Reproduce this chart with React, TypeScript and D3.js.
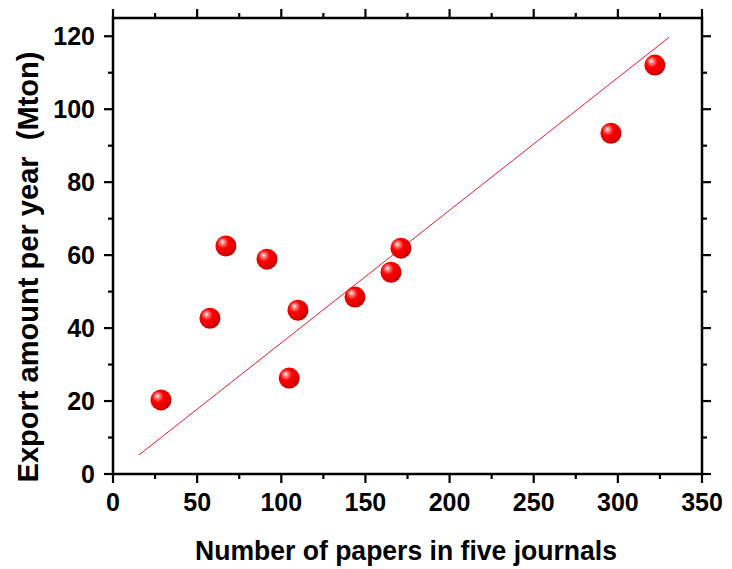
import React from "react";
import * as d3 from "d3";

const papers = [28.5, 57.6, 67.1, 91.5, 104.7, 109.9, 143.8, 165.2, 171.1, 295.9, 322];
const exportAmount = [20.3, 42.7, 62.5, 58.9, 26.3, 44.9, 48.5, 55.3, 61.9, 93.4, 112.1];
const fitX = [15.4, 330.4];
const fitY = [5.2, 119.7];
const xTicks = [0, 50, 100, 150, 200, 250, 300, 350];
const yTicks = [0, 20, 40, 60, 80, 100, 120];
const xMinor = [25, 75, 125, 175, 225, 275, 325];
const yMinor = [10, 30, 50, 70, 90, 110];

const W = 732, H = 569;
const L = 113, R = 702, T = 18, B = 474;

export default function App() {
  const x = d3.scaleLinear().domain([0, 350]).range([L, R]);
  const y = d3.scaleLinear().domain([0, 125]).range([B, T]);
  const line = d3.line<number>().x((d) => x(fitX[d])).y((d) => y(fitY[d]));
  const font = "'Liberation Sans', Arial, sans-serif";
  const MAJ = 9, MIN = 5;
  return (
    <svg width={W} height={H} style={{ position: "absolute", left: 0, top: 0, background: "#fff" }}>
      <defs>
        <radialGradient id="ball" cx="0.4" cy="0.4" r="0.6" fx="0.32" fy="0.3">
          <stop offset="0" stopColor="#ffffff" />
          <stop offset="0.18" stopColor="#ff8080" />
          <stop offset="0.45" stopColor="#ff0000" />
          <stop offset="0.85" stopColor="#e00000" />
          <stop offset="1" stopColor="#b80000" />
        </radialGradient>
      </defs>
      <path d={line([0, 1]) || ""} fill="none" stroke="#dd0016" strokeWidth={0.9} />
      {papers.map((p, i) => (
        <circle key={i} cx={x(p)} cy={y(exportAmount[i])} r={10.5} fill="url(#ball)" />
      ))}
      <g stroke="#000" strokeWidth={2.2} fill="none">
        <rect x={L} y={T} width={R - L} height={B - T} strokeWidth={2.5} />
        {xTicks.map((t) => (
          <g key={"xt" + t}>
            <line x1={x(t)} x2={x(t)} y1={B} y2={B + MAJ} />
            <line x1={x(t)} x2={x(t)} y1={T} y2={T - MAJ} />
          </g>
        ))}
        {xMinor.map((t) => (
          <g key={"xm" + t}>
            <line x1={x(t)} x2={x(t)} y1={B} y2={B + MIN} />
            <line x1={x(t)} x2={x(t)} y1={T} y2={T - MIN} />
          </g>
        ))}
        {yTicks.map((t) => (
          <g key={"yt" + t}>
            <line y1={y(t)} y2={y(t)} x1={L} x2={L - MAJ} />
            <line y1={y(t)} y2={y(t)} x1={R} x2={R + MAJ} />
          </g>
        ))}
        {yMinor.map((t) => (
          <g key={"ym" + t}>
            <line y1={y(t)} y2={y(t)} x1={L} x2={L - MIN} />
            <line y1={y(t)} y2={y(t)} x1={R} x2={R + MIN} />
          </g>
        ))}
      </g>
      <g fontFamily={font} fontWeight="bold" fontSize={25} fill="#000">
        {xTicks.map((t) => (
          <text key={"xl" + t} x={x(t)} y={B + 37} textAnchor="middle">{t}</text>
        ))}
        {yTicks.map((t) => (
          <text key={"yl" + t} x={L - 18} y={y(t) + 9} textAnchor="end">{t}</text>
        ))}
      </g>
      <text x={406} y={560} textAnchor="middle" fontFamily={font} fontWeight="bold" fontSize={28}
        textLength={422} lengthAdjust="spacingAndGlyphs">Number of papers in five journals</text>
      <text transform="translate(38,267) rotate(-90)" textAnchor="middle" fontFamily={font} fontWeight="bold" fontSize={30}
        textLength={431} lengthAdjust="spacingAndGlyphs" style={{ whiteSpace: "pre" }}>{"Export amount per year  (Mton)"}</text>
    </svg>
  );
}
